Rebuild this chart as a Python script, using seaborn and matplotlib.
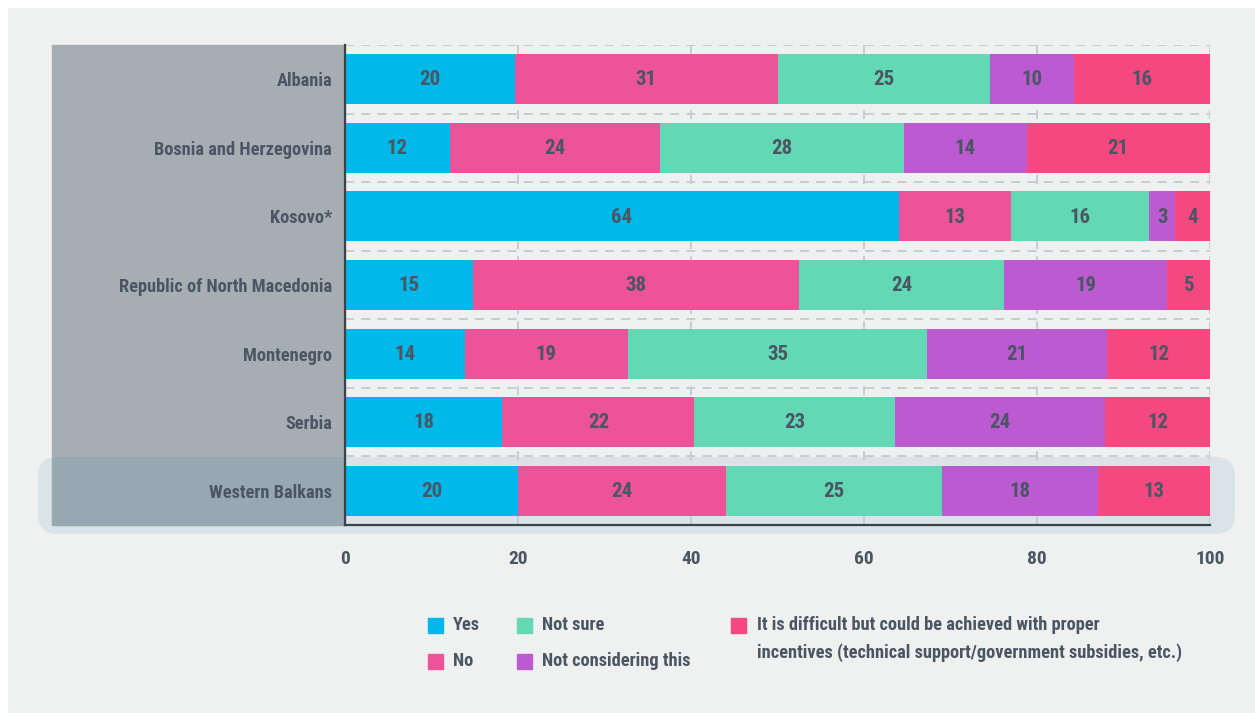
import numpy as np
import pandas as pd
import matplotlib
matplotlib.use("Agg")
import matplotlib.pyplot as plt
from matplotlib.patches import Rectangle, FancyBboxPatch
import seaborn as sns

# ---------------- data ----------------
countries = ["Albania", "Bosnia and Herzegovina", "Kosovo*",
             "Republic of North Macedonia", "Montenegro", "Serbia",
             "Western Balkans"]
yes = [20, 12, 64, 15, 14, 18, 20]
no = [31, 24, 13, 38, 19, 22, 24]
not_sure = [25, 28, 16, 24, 35, 23, 25]
not_considering = [10, 14, 3, 19, 21, 24, 18]
difficult = [16, 21, 4, 5, 12, 12, 13]
series_names = ["Yes", "No", "Not sure", "Not considering this",
                "It is difficult but could be achieved with proper\n"
                "incentives (technical support/government subsidies, etc.)"]
x_ticks = [0, 20, 40, 60, 80, 100]

colors = ["#00b9ea", "#ec5398", "#62d8b5", "#bc5ad2", "#f64880"]
TEXT = "#4a5663"

sns.set_theme(style="white")
plt.rcParams["font.family"] = ["Roboto Condensed", "DejaVu Sans"]

W, H = 1255, 713
fig = plt.figure(figsize=(W / 100, H / 100), dpi=100, facecolor="white")

def fx(px):
    return px / W

def fy(py):
    return 1 - py / H

# background panel
fig.patches.append(Rectangle((fx(8), 0), 1 - fx(8), 1 - 8 / H,
                             transform=fig.transFigure, color="#eff0f0",
                             zorder=-10))
# label panel
fig.patches.append(Rectangle((fx(52), fy(525)), (345 - 52) / W, 480 / H,
                             transform=fig.transFigure, color="#a7aeb3",
                             zorder=-6))
# highlight of Western Balkans
fig.patches.append(FancyBboxPatch((0.38, (H - 534) / 100), (1235 - 38) / 100,
                                  (534 - 457) / 100,
                                  boxstyle="round,pad=0,rounding_size=0.2",
                                  transform=fig.dpi_scale_trans,
                                  facecolor=(39 / 255, 122 / 255, 176 / 255),
                                  edgecolor="none", alpha=0.11, zorder=-5))

ax = fig.add_axes([fx(345), fy(525), 865 / W, 480 / H])
ax.set_facecolor("none")

vals = np.array([yes, no, not_sure, not_considering, difficult], dtype=float)
shares = vals / vals.sum(axis=0) * 100
cum = np.cumsum(shares, axis=0)

df = pd.DataFrame({"country": countries})
for i in range(5):
    df[f"c{i}"] = cum[i]

for i in reversed(range(5)):
    sns.barplot(data=df, y="country", x=f"c{i}", order=countries,
                color=colors[i], saturation=1, width=0.73, orient="h",
                linewidth=0, ax=ax, zorder=2)

ax.set_xlim(0, 100)
ax.set_ylim(6.5, -0.5)
ax.set_xlabel("")
ax.set_ylabel("")

grid_kw = dict(colors="#c6cacd", linestyles=(0, (5, 4)), linewidth=1.3, zorder=1)
ax.hlines(np.arange(-0.5, 6, 1), 0, 100, **grid_kw)
ax.vlines(x_ticks[1:], -0.5, 6.5, **grid_kw)

for s in ["top", "right"]:
    ax.spines[s].set_visible(False)
for s in ["left", "bottom"]:
    ax.spines[s].set_color("#3b434a")
    ax.spines[s].set_linewidth(1.6)
    ax.spines[s].set_zorder(3)

ax.set_xticks(x_ticks)
ax.set_xticklabels([str(t) for t in x_ticks], fontsize=14, fontweight="bold",
                   color=TEXT)
ax.set_yticks(range(len(countries)))
ax.set_yticklabels(countries, fontsize=13.2, fontweight="bold", color=TEXT)
ax.tick_params(axis="x", length=0, pad=18)
ax.tick_params(axis="y", length=0, pad=9.4)

# value labels
for r in range(len(countries)):
    start = 0.0
    for i in range(5):
        w = shares[i, r]
        ax.text(start + w / 2, r + 0.01, f"{int(vals[i, r])}", ha="center",
                va="center", fontsize=15, fontweight="bold", color=TEXT,
                zorder=4)
        start += w

# legend (manual, column-wise like the reference)
sq = 15
legend_items = [
    (0, 428, 625, 453), (1, 428, 661, 453),
    (2, 517, 625, 542), (3, 517, 661, 542),
    (4, 731, 625, 757),
]
for i, x0, yc, tx in legend_items:
    fig.patches.append(Rectangle((fx(x0), fy(yc + sq / 2)), sq / W, sq / H,
                                 transform=fig.transFigure, color=colors[i]))
    if "\n" in series_names[i]:
        fig.text(fx(tx), fy(yc - 9), series_names[i], ha="left", va="top",
                 fontsize=13.2, fontweight="bold", color=TEXT, linespacing=1.6)
    else:
        fig.text(fx(tx), fy(yc), series_names[i], ha="left", va="center",
                 fontsize=13.2, fontweight="bold", color=TEXT)

fig.savefig("out.png", dpi=100, facecolor="white")
